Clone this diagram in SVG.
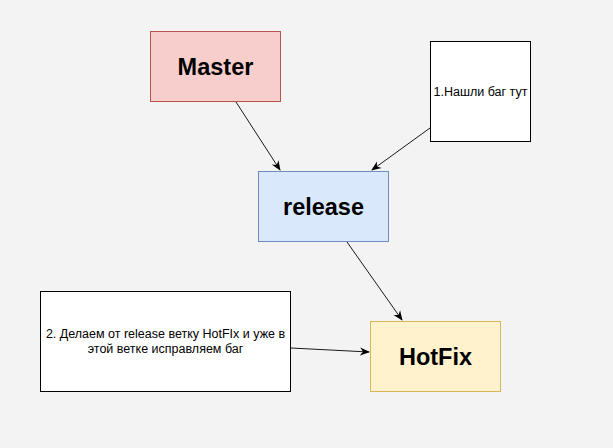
<svg xmlns="http://www.w3.org/2000/svg" width="613" height="448" viewBox="0 0 613 448">
<defs>
<style>
.big{font-family:"Liberation Sans",Arial,sans-serif;font-size:23.5px;font-weight:bold;fill:#000;text-anchor:middle}
.small{font-family:"Liberation Sans",Arial,sans-serif;font-size:12.5px;fill:#000;text-anchor:middle}
.edge{stroke:#1a1a1a;stroke-width:1;fill:none;marker-end:url(#arr)}
</style>
<marker id="arr" viewBox="0 0 10 10" refX="9" refY="5" markerWidth="10" markerHeight="10" markerUnits="userSpaceOnUse" orient="auto">
<path d="M0,1 L10,5 L0,9 L3,5 Z" fill="#000"/>
</marker>
</defs>
<rect width="613" height="448" fill="#f3f3f3"/>
<g id="connectors">
<line class="edge" x1="236" y1="102" x2="280" y2="170"/>
<line class="edge" x1="430" y1="128" x2="372" y2="170"/>
<line class="edge" x1="347" y1="242" x2="402" y2="320"/>
<line class="edge" x1="291" y1="348" x2="369" y2="352"/>
</g>
<g id="master">
<rect x="150.5" y="31.5" width="130" height="70" fill="#f8cecc" stroke="#b85450"/>
<text class="big" x="215.5" y="75">Master</text>
</g>
<g id="note1">
<rect x="430.5" y="41.5" width="100" height="100" fill="#fff" stroke="#000"/>
<text class="small" x="480.5" y="96">1.Нашли баг тут</text>
</g>
<g id="release">
<rect x="258.5" y="171.5" width="130" height="70" fill="#dae8fc" stroke="#6c8ebf"/>
<text class="big" x="323.5" y="215">release</text>
</g>
<g id="note2">
<rect x="40.5" y="291.5" width="250" height="100" fill="#fff" stroke="#000"/>
<text class="small" x="165.5" y="338">2. Делаем от release ветку HotFIx и уже в</text>
<text class="small" x="165.5" y="353">этой ветке исправляем баг</text>
</g>
<g id="hotfix">
<rect x="370.5" y="321.5" width="130" height="70" fill="#fff2cc" stroke="#d6b656"/>
<text class="big" x="435.5" y="365">HotFix</text>
</g>
</svg>
